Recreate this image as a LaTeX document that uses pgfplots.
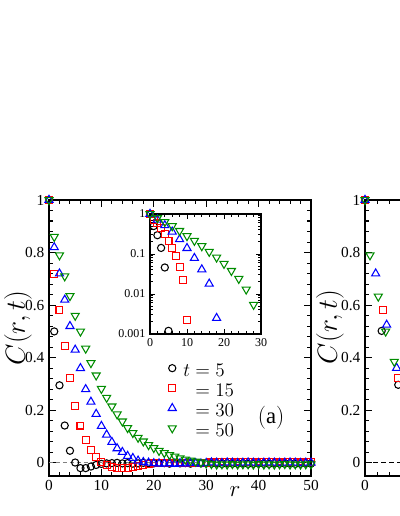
\documentclass[border=0pt]{standalone}
\usepackage{pgfplots}
\pgfplotsset{compat=1.18}
\usepackage{pgfplotstable}
\usepackage{fontspec}
\setmainfont{Liberation Serif}
\definecolor{mygreen}{RGB}{0,140,0}

\pgfplotstableread{
r black red blue green
0 1 1 1 1
1 0.50 0.72 0.82 0.86
2 0.295 0.58 0.72 0.79
3 0.142 0.444 0.62 0.71
4 0.046 0.323 0.52 0.635
5 0.0012 0.215 0.43 0.56
6 -0.02 0.142 0.36 0.50
7 -0.02 0.088 0.28 0.435
8 -0.014 0.048 0.232 0.38
9 -0.008 0.022 0.186 0.333
10 -0.004 0.0022 0.14 0.282
11 -0.002 -0.008 0.107 0.248
12 -0.001 -0.016 0.079 0.215
13 0.000 -0.02 0.055 0.185
14 -0.002 -0.021 0.041 0.158
15 -0.001 -0.019 0.026 0.133
16 -0.003 -0.015 0.018 0.114
17 -0.002 -0.011 0.008 0.096
18 0.000 -0.007 0.0025 0.082
19 -0.001 -0.004 0.000 0.068
20 -0.002 -0.002 -0.002 0.057
21 0.000 -0.001 -0.003 0.046
22 -0.001 0.000 -0.003 0.038
23 -0.003 -0.001 -0.002 0.030
24 0.000 0.000 -0.004 0.024
25 -0.002 -0.002 -0.002 0.018
26 -0.001 0.000 -0.003 0.013
27 -0.003 -0.001 -0.001 0.009
28 0.000 0.000 -0.002 0.0054
29 -0.002 -0.001 -0.003 0.002
30 -0.001 0.000 -0.001 -0.002
31 -0.003 0.004 0.001 -0.004
32 -0.002 0.003 0.000 -0.006
33 -0.004 0.005 -0.001 -0.005
34 -0.002 0.004 0.001 -0.006
35 -0.003 0.003 0.000 -0.004
36 -0.003 0.005 -0.001 -0.006
37 -0.002 0.004 0.000 -0.005
38 -0.004 0.003 0.001 -0.005
39 -0.003 0.004 0.000 -0.006
40 -0.002 0.005 -0.001 -0.004
41 -0.003 0.004 0.000 -0.006
42 -0.004 0.003 0.001 -0.005
43 -0.002 0.004 0.000 -0.006
44 -0.003 0.005 -0.001 -0.005
45 -0.003 0.004 0.000 -0.004
46 -0.002 0.003 0.001 -0.006
47 -0.004 0.004 0.000 -0.005
48 -0.003 0.005 -0.001 -0.006
49 -0.002 0.004 0.000 -0.005
50 -0.003 0.003 0.000 -0.005
}\datatable

\pgfplotstableread{
x black
0 1
0.267 0.502
0.533 0.297
}\rblack
\pgfplotstableread{
x red
0 1
0.293 0.582
0.533 0.323
}\rred
\pgfplotstableread{
x blue
0 1
0.171 0.72
0.347 0.525
0.507 0.361
}\rblue
\pgfplotstableread{
x green
0 1
0.08 0.79
0.213 0.633
0.331 0.50
0.469 0.385
}\rgreen

\pgfplotsset{
  sblack/.style={only marks, black, mark=o, mark size=2.7pt, mark options={solid, line width=0.8pt}},
  sred/.style={only marks, red, mark=square, mark size=2.6pt, mark options={solid, line width=0.8pt}},
  sblue/.style={only marks, blue, mark=triangle, mark size=3.5pt, mark options={solid, line width=0.8pt}},
  sgreen/.style={only marks, mygreen, mark=triangle, mark size=3.5pt, mark options={solid, line width=0.8pt, rotate=180}},
  bigax/.style={
    scale only axis, width=196.5pt, height=207pt,
    ymin=-0.05, ymax=1,
    ytick={0,0.2,0.4,0.6,0.8,1}, minor y tick num=4,
    minor x tick num=4,
    tick align=inside,
    major tick length=5.25pt, minor tick length=3pt,
    every tick/.style={black, line width=0.8pt},
    axis line style={line width=1pt},
    tick label style={font=\fontsize{11.5}{13}\selectfont},
    /pgf/number format/assume math mode=true,
    clip=false,
    ylabel={$C(r,t)$},
    ylabel style={font=\fontsize{19.5}{22}\selectfont, anchor=center},
  },
}

\begin{document}
\begin{tikzpicture}
% main panel (a)
\begin{axis}[bigax,
  at={(36.75pt,30pt)}, anchor=south west,
  xmin=0, xmax=50, xtick={0,10,20,30,40,50},
  ylabel style={at={(axis description cs:-0.118,0.536)}},
  xlabel={$r$},
  xlabel style={font=\fontsize{18}{20}\selectfont, at={(axis description cs:0.71,-0.075)}, anchor=base},
  legend style={at={(axis cs:22.7,0.379)}, anchor=north west, draw=none, fill=none,
    font=\fontsize{13.6}{16}\selectfont, inner sep=0pt, row sep=0pt, column sep=5.25pt,
    nodes={inner sep=0pt, text height=10pt, text depth=5pt}},
  legend cell align=left,
  legend image code/.code={\draw[mark repeat=2, mark phase=2, #1] plot coordinates {(0pt,4pt)(3pt,4pt)(6pt,4pt)};},
]
\addplot[gray, dash pattern=on 3pt off 2.2pt, line width=0.7pt, forget plot] coordinates {(0,0) (50,0)};
\addplot[sblack] table[x=r, y=black] {\datatable};
\addlegendentry{$t=5$}
\addplot[sred] table[x=r, y=red] {\datatable};
\addlegendentry{$\phantom{t}=15$}
\addplot[sblue] table[x=r, y=blue] {\datatable};
\addlegendentry{$\phantom{t}=30$}
\addplot[sgreen] table[x=r, y=green] {\datatable};
\addlegendentry{$\phantom{t}=50$}
\node[font=\fontsize{17}{20}\selectfont] at (axis cs:42.4,0.17) {$(\mathrm{a})$};
\end{axis}

% inset
\begin{axis}[
  at={(112.5pt,136.5pt)}, anchor=south west,
  scale only axis, width=83.25pt, height=90pt,
  ymode=log, xmin=0, xmax=30, ymin=0.001, ymax=1,
  xtick={0,10,20,30}, minor x tick num=4,
  ytick={0.001,0.01,0.1,1}, yticklabels={0.001,0.01,0.1,1},
  tick align=inside,
  major tick length=4pt, minor tick length=2pt,
  every tick/.style={black, line width=0.7pt},
  axis line style={line width=1pt},
  tick label style={font=\fontsize{9}{10}\selectfont},
  /pgf/number format/assume math mode=true,
  clip=false,
]
\addplot[sblack, restrict x to domain=0:30] table[x=r, y=black] {\datatable};
\addplot[sred, restrict x to domain=0:30] table[x=r, y=red] {\datatable};
\addplot[sblue, each nth point=2, restrict x to domain=0:30] table[x=r, y=blue] {\datatable};
\addplot[sgreen, each nth point=2, restrict x to domain=0:30] table[x=r, y=green] {\datatable};
\end{axis}

% right panel (partly visible)
\begin{axis}[bigax,
  at={(273.75pt,30pt)}, anchor=south west,
  xmin=0, xmax=4.2, xtick={0,1,2,3,4}, xticklabels={0,{},{},{},{}},
  ylabel style={at={(axis description cs:-0.1336,0.54)}},
]
\addplot[black, dash pattern=on 3.5pt off 2.5pt, line width=0.8pt, forget plot] coordinates {(0,0) (4.2,0)};
\addplot[sblack] table[x=x, y=black] {\rblack};
\addplot[sred] table[x=x, y=red] {\rred};
\addplot[sblue] table[x=x, y=blue] {\rblue};
\addplot[sgreen] table[x=x, y=green] {\rgreen};
\end{axis}
\pgfresetboundingbox
\path[use as bounding box] (0,0) rectangle (299.25pt,387pt);
\end{tikzpicture}
\end{document}
